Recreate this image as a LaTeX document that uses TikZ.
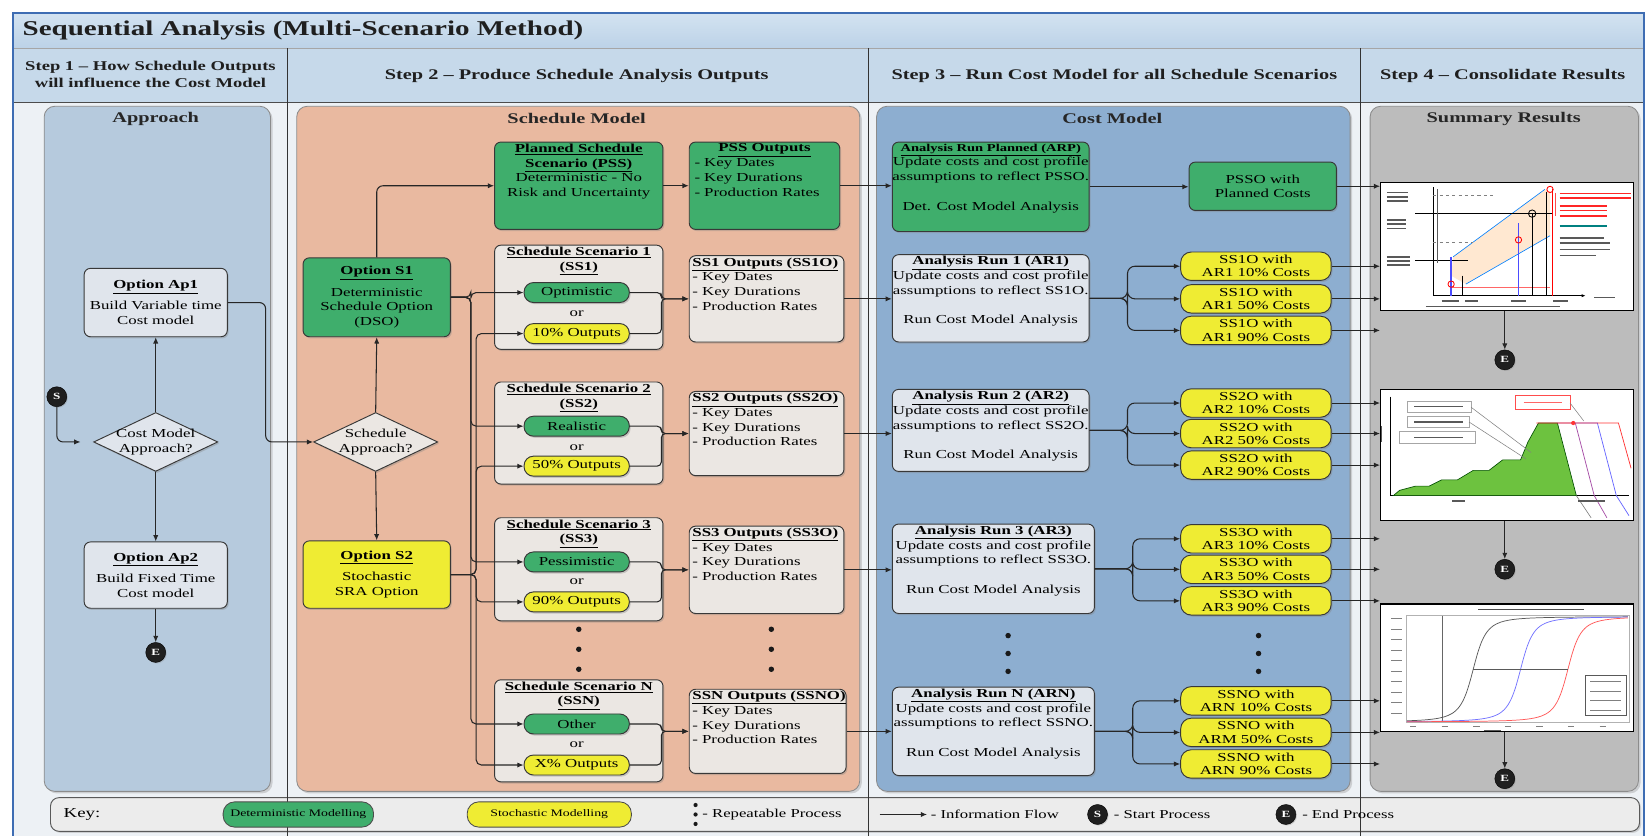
\documentclass[tikz,border=0pt]{standalone}
\usepackage{fontspec}
\setmainfont{Liberation Serif}[FakeStretch=1.38]
\usetikzlibrary{shapes.geometric,arrows.meta,shadows,calc}
\definecolor{frameblue}{HTML}{3E6DB3}
\definecolor{titlebgA}{HTML}{D3E3F1}
\definecolor{titlebgB}{HTML}{BCD2E7}
\definecolor{headbg}{HTML}{C6D9EA}
\definecolor{bodybg}{HTML}{EDF1F5}
\definecolor{apprlane}{HTML}{B6CADD}
\definecolor{schedlane}{HTML}{E9B9A0}
\definecolor{costlane}{HTML}{8DAED0}
\definecolor{sumlane}{HTML}{BCBCBC}
\definecolor{detgreen}{HTML}{3FAE6C}
\definecolor{stoyellow}{HTML}{EFEC33}
\definecolor{boxgrey}{HTML}{EBE7E3}
\definecolor{boxblue}{HTML}{E0E5EC}
\definecolor{keybg}{HTML}{ECECEC}
\definecolor{chartgreen}{HTML}{6DC23F}
\newcommand\fBody{\fontsize{11.6}{14}\selectfont}
\newcommand\fHead{\fontsize{14}{16}\selectfont\bfseries}
\newcommand\fHeadA{\fontsize{12.8}{16}\selectfont\bfseries}
\newcommand\fLane{\fontsize{14}{16}\selectfont\bfseries}
\newcommand\fTitle{\fontsize{20}{24}\selectfont\bfseries}
\newcommand\fKey{\fontsize{11.5}{13}\selectfont}
\newcommand\fKeyPill{\fontsize{9.5}{11}\selectfont}
\newcommand\fCirc{\fontsize{9}{10}\selectfont\bfseries}
\newcommand\fPillTxt{\fontsize{11.6}{12.5}\selectfont}
\newcommand\ubf[1]{\underline{\textbf{#1}}}
\begin{document}
\begin{tikzpicture}[x=1pt,y=-1pt,
  shad/.style={drop shadow={opacity=0.35,shadow xshift=1.3pt,shadow yshift=-1.6pt}},
  base/.style={draw=black!78, line width=0.9pt, rounded corners=6pt, shad},
  lanebox/.style={draw=black!45, line width=0.8pt, rounded corners=10pt, drop shadow={opacity=0.3,shadow xshift=2pt,shadow yshift=-2pt}},
  greenbox/.style={base, fill=detgreen},
  yellowbox/.style={base, fill=stoyellow},
  greybox/.style={base, fill=boxgrey},
  bluebox/.style={base, fill=boxblue},
  txt/.style={align=center, font=\fBody, inner sep=2pt},
  pill/.style={draw=black!78, line width=0.9pt, rounded corners=9pt, minimum width=100pt, minimum height=19pt, inner sep=0pt, font=\fBody, shad},
  rpill/.style={draw=black!78, line width=0.9pt, rounded corners=10pt, fill=stoyellow, minimum width=143pt, minimum height=27pt, inner sep=0pt, align=center, font=\fPillTxt, shad},
  kpill/.style={draw=black!70, line width=0.8pt, rounded corners=11pt, minimum height=24pt, inner sep=0pt, font=\fKeyPill},
  flow/.style={draw=black!85, line width=1pt, -{Latex[length=6pt,width=5pt]}},
  endpt/.style={circle, fill=black!88, draw=black, text=white, minimum size=19pt, inner sep=0pt, font=\fCirc, drop shadow={opacity=0.3,shadow xshift=1pt,shadow yshift=-1pt}},
  dia/.style={diamond, aspect=2, draw=black!78, line width=0.9pt, inner xsep=-10pt, inner ysep=-5pt, minimum width=118pt, minimum height=56pt, align=center, font=\fBody, shad},
  lanetitle/.style={font=\fLane, text=black!85},
  chart/.style={draw=black, line width=1pt, fill=white}
]
\useasboundingbox (0,0) rectangle (1568,794);
\fill[white] (0,0) rectangle (1568,794);
% frame backgrounds
\shade[top color=titlebgA, bottom color=titlebgB] (12,12) rectangle (1562,46);
\fill[headbg] (12,46) rectangle (1562,97);
\fill[bodybg] (12,97) rectangle (1562,794);
\draw[gray!70, line width=0.8pt] (12,46) -- (1562,46);
\draw[gray!60!black, line width=1pt] (12,97) -- (1562,97);

% title and headers
\node[anchor=west, font=\fTitle, text=black!88] (title) at (18,29) {Sequential Analysis (Multi-Scenario Method)};
\node[font=\fHeadA, align=center, text=black!88] (h1) at (143,71) {Step 1 -- How Schedule Outputs\\will influence the Cost Model};
\node[font=\fHead, text=black!88] (h2) at (548,72) {Step 2 -- Produce Schedule Analysis Outputs};
\node[font=\fHead, text=black!88] (h3) at (1059,72) {Step 3 -- Run Cost Model for all Schedule Scenarios};
\node[font=\fHead, text=black!88] (h4) at (1428,72) {Step 4 -- Consolidate Results};

% lanes
\node[lanebox, fill=apprlane, minimum width=215, minimum height=651] (applane) at (149.5,426.5) {};
\node[lanebox, fill=schedlane, minimum width=535, minimum height=651] (schlane) at (549.5,426.5) {};
\node[lanebox, fill=costlane, minimum width=450, minimum height=651] (costlane) at (1058,426.5) {};
\node[lanebox, fill=sumlane, minimum width=255, minimum height=651] (sumlane) at (1429.5,426.5) {};
\node[lanetitle] (appt) at (148,113) {Approach};
\node[lanetitle] (scht) at (548,113) {Schedule Model};
\node[lanetitle] (costt) at (1057,113) {Cost Model};
\node[lanetitle] (sumt) at (1429,113) {Summary Results};

% key bar
\node[draw=gray!70!black, line width=0.9pt, fill=keybg, rounded corners=8pt, minimum width=1510, minimum height=32, drop shadow={opacity=0.3,shadow xshift=1.5pt,shadow yshift=-1.5pt}] (keybar) at (803,774) {};

% column lines and frame
\foreach \xx in {273,825,1293} \draw[black!80, line width=0.9pt] (\xx,46) -- (\xx,794);
\draw[frameblue, line width=2pt] (12,794) -- (12,12) -- (1562,12) -- (1562,794);

% ---------- Approach ----------
\node[bluebox, txt, minimum width=136, minimum height=65] (ap1) at (148,287.5) {\ubf{Option Ap1}\\[6pt]Build Variable time\\Cost model};
\node[dia, fill=boxblue] (cmdia) at (148,420) {Cost Model\\Approach?};
\node[bluebox, txt, minimum width=136, minimum height=63] (ap2) at (148,546.5) {\ubf{Option Ap2}\\[6pt]Build Fixed Time\\Cost model};
\node[endpt] (sA) at (54,377) {S};
\node[endpt] (eA) at (148,620) {E};

% ---------- Schedule model ----------
\node[greenbox, txt, minimum width=140, minimum height=75] (s1) at (358,282.5) {\ubf{Option S1}\\[6pt]Deterministic\\Schedule Option\\(DSO)};
\node[dia, fill=boxgrey] (sdia) at (357,420) {Schedule\\Approach?};
\node[yellowbox, txt, minimum width=140, minimum height=64] (s2) at (358,546) {\ubf{Option S2}\\[6pt]Stochastic\\SRA Option};

\node[greenbox, minimum width=160, minimum height=83, label={[txt, anchor=north]north:{\ubf{Planned Schedule}\\\ubf{Scenario (PSS)}\\Deterministic - No\\Risk and Uncertainty}}] (pss) at (550,176.5) {};
\node[greenbox, minimum width=143, minimum height=83, label={[txt, anchor=north]north:{\ubf{PSS Outputs}}}, label={[txt, anchor=north, align=left, text width=133pt, yshift=-14pt]north:{- Key Dates\\- Key Durations\\- Production Rates}}] (psso) at (726.5,176.5) {};

\node[greybox, minimum width=160, minimum height=99, label={[txt, anchor=north]north:{\ubf{Schedule Scenario 1}\\\ubf{(SS1)}}}] (ss1) at (550,282.5) {};
\node[greybox, minimum width=160, minimum height=97, label={[txt, anchor=north]north:{\ubf{Schedule Scenario 2}\\\ubf{(SS2)}}}] (ss2) at (550,411.5) {};
\node[greybox, minimum width=160, minimum height=98, label={[txt, anchor=north]north:{\ubf{Schedule Scenario 3}\\\ubf{(SS3)}}}] (ss3) at (550,541) {};
\node[greybox, minimum width=160, minimum height=97, label={[txt, anchor=north]north:{\ubf{Schedule Scenario N}\\\ubf{(SSN)}}}] (ssn) at (550,694.5) {};

\node[pill, fill=detgreen] (opt) at (548,278) {Optimistic};
\node[txt] (or1) at (548,298) {or};
\node[pill, fill=stoyellow] (p10) at (548,317) {10\% Outputs};
\node[pill, fill=detgreen] (real) at (548,405) {Realistic};
\node[txt] (or2) at (548,425) {or};
\node[pill, fill=stoyellow] (p50) at (548,443) {50\% Outputs};
\node[pill, fill=detgreen] (pess) at (548,534) {Pessimistic};
\node[txt] (or3) at (548,553) {or};
\node[pill, fill=stoyellow] (p90) at (548,572) {90\% Outputs};
\node[pill, fill=detgreen] (oth) at (548,688) {Other};
\node[txt] (or4) at (548,708) {or};
\node[pill, fill=stoyellow] (px) at (548,727) {X\% Outputs};

\node[greybox, minimum width=147, minimum height=82, label={[txt, anchor=north, align=left, text width=141pt]north:{\ubf{SS1 Outputs (SS1O)}\\- Key Dates\\- Key Durations\\- Production Rates}}] (ss1o) at (728.5,284) {};
\node[greybox, minimum width=147, minimum height=80, label={[txt, anchor=north, align=left, text width=141pt]north:{\ubf{SS2 Outputs (SS2O)}\\- Key Dates\\- Key Durations\\- Production Rates}}] (ss2o) at (728.5,412) {};
\node[greybox, minimum width=147, minimum height=83, label={[txt, anchor=north, align=left, text width=141pt]north:{\ubf{SS3 Outputs (SS3O)}\\- Key Dates\\- Key Durations\\- Production Rates}}] (ss3o) at (728.5,541.5) {};
\node[greybox, minimum width=149, minimum height=80, label={[txt, anchor=north, align=left, text width=143pt]north:{\ubf{SSN Outputs (SSNO)}\\- Key Dates\\- Key Durations\\- Production Rates}}] (ssno) at (729.5,695) {};

\foreach \xx in {550,733} \foreach \yy in {598,617,636} \fill[black!90] (\xx,\yy) circle (2.6pt);

% ---------- Cost model ----------
\node[greenbox, minimum width=187, minimum height=85, label={[txt, anchor=north]north:{{\fontsize{10}{14}\selectfont\ubf{Analysis Run Planned (ARP)}}\\Update costs and cost profile\\assumptions to reflect PSSO.\\[14pt]Det. Cost Model Analysis}}] (arp) at (941.5,177.5) {};
\node[greenbox, txt, minimum width=140, minimum height=46] (ppc) at (1200,177) {PSSO with\\Planned Costs};

\node[bluebox, minimum width=187, minimum height=83, label={[txt, anchor=north]north:{\ubf{Analysis Run 1 (AR1)}\\Update costs and cost profile\\assumptions to reflect SS1O.\\[14pt]Run Cost Model Analysis}}] (ar1) at (941.5,283.5) {};
\node[bluebox, minimum width=187, minimum height=78, label={[txt, anchor=north]north:{\ubf{Analysis Run 2 (AR2)}\\Update costs and cost profile\\assumptions to reflect SS2O.\\[14pt]Run Cost Model Analysis}}] (ar2) at (941.5,409) {};
\node[bluebox, minimum width=192, minimum height=85, label={[txt, anchor=north]north:{\ubf{Analysis Run 3 (AR3)}\\Update costs and cost profile\\assumptions to reflect SS3O.\\[14pt]Run Cost Model Analysis}}] (ar3) at (944,540.5) {};
\node[bluebox, minimum width=192, minimum height=84, label={[txt, anchor=north]north:{\ubf{Analysis Run N (ARN)}\\Update costs and cost profile\\assumptions to reflect SSNO.\\[14pt]Run Cost Model Analysis}}] (arn) at (944,695) {};

\node[rpill] (r11) at (1193.5,253) {SS1O with\\AR1 10\% Costs};
\node[rpill] (r12) at (1193.5,284) {SS1O with\\AR1 50\% Costs};
\node[rpill] (r13) at (1193.5,314) {SS1O with\\AR1 90\% Costs};
\node[rpill] (r21) at (1193.5,383) {SS2O with\\AR2 10\% Costs};
\node[rpill] (r22) at (1193.5,412) {SS2O with\\AR2 50\% Costs};
\node[rpill] (r23) at (1193.5,442) {SS2O with\\AR2 90\% Costs};
\node[rpill] (r31) at (1193.5,512) {SS3O with\\AR3 10\% Costs};
\node[rpill] (r32) at (1193.5,541) {SS3O with\\AR3 50\% Costs};
\node[rpill] (r33) at (1193.5,571) {SS3O with\\AR3 90\% Costs};
\node[rpill] (rn1) at (1193.5,666) {SSNO with\\ARN 10\% Costs};
\node[rpill] (rn2) at (1193.5,696) {SSNO with\\ARM 50\% Costs};
\node[rpill] (rn3) at (1193.5,726) {SSNO with\\ARN 90\% Costs};

\foreach \xx in {958,1196} \foreach \yy in {604,621,638} \fill[black!90] (\xx,\yy) circle (2.6pt);

% ---------- Summary ----------
\node[chart, minimum width=240, minimum height=122] (ch1) at (1432,234) {};
\node[chart, minimum width=240, minimum height=125] (ch2) at (1432,432.5) {};
\node[chart, minimum width=240, minimum height=121] (ch3) at (1432,634.5) {};
\node[endpt] (e1) at (1430,342) {E};
\node[endpt] (e2) at (1430,541) {E};
\node[endpt] (e3) at (1430,740) {E};

% chart 1 drawing
\fill[orange!18] (1379,262) -- (1381,244) -- (1468,180) -- (1473,182) -- (1473,224) -- (1393,270) -- cycle;
\draw[blue!50!cyan, line width=0.6pt] (1381,244) -- (1468,180);
\draw[blue!50!cyan, line width=0.6pt] (1393,270) -- (1473,224);
\draw[line width=1pt] (1362,178) -- (1362,281);
\draw[line width=1pt, -{Latex[length=4pt,width=3pt]}] (1362,281) -- (1507,281);
\draw[line width=0.7pt] (1345,203) -- (1475,203);
\draw[line width=0.7pt] (1345,247) -- (1395,247);
\draw[red!60, line width=0.5pt] (1380,273) -- (1473,273);
\draw[gray, line width=0.5pt, dashed] (1362,186) -- (1420,186);
\draw[gray, line width=0.5pt, dashed] (1362,230) -- (1400,230);
\draw[blue!70, line width=1.8pt] (1379,244) -- (1379,281);
\draw[line width=1pt] (1390,262) -- (1390,281);
\draw[blue!70, line width=1.8pt] (1443,212) -- (1443,281);
\draw[line width=0.8pt] (1456,203) -- (1456,281);
\draw[line width=1pt] (1470,182) -- (1470,281);
\draw[red, line width=1.2pt] (1475,180) -- (1475,281);
\draw[red, line width=0.8pt] (1379,270) circle (3pt);
\draw[red, line width=0.8pt] (1443,228) circle (3pt);
\draw[line width=0.8pt] (1456,203) circle (3.5pt);
\draw[red, line width=0.8pt] (1473,180) circle (3pt);
\draw[gray!70!black, line width=0.6pt] (1366,180) -- (1366,250);
\foreach \yy in {183,187,191} \draw[gray!70!black, line width=1.5pt] (1318,\yy) -- (1338,\yy);
\foreach \yy in {209,213,217} \draw[gray!70!black, line width=1.5pt] (1318,\yy) -- (1336,\yy);
\foreach \yy in {244,248,252} \draw[gray!70!black, line width=1.5pt] (1318,\yy) -- (1340,\yy);
\foreach \yy/\ll in {184/68,188/68,196/45,200/45,205/45} \draw[red!85, line width=1.5pt] (1482,\yy) -- ++(\ll,0);
\draw[teal, line width=1.5pt] (1482,215) -- ++(45,0);
\foreach \yy/\ll in {226/42,231/48,237/48,243/35} \draw[gray!70!black, line width=1.5pt] (1482,\yy) -- ++(\ll,0);
\draw[red!70, line width=0.8pt] (1478,183) -- (1478,205);
\draw[gray!70!black, line width=1.3pt] (1370,286) -- (1386,286) (1392,286) -- (1405,286) (1436,286) -- (1450,286) (1476,286) -- (1490,286) (1515,283) -- (1535,283);
\draw[gray!70!black, line width=1.3pt] (1355,291) -- (1482,291);

% chart 2 drawing
\draw[line width=0.8pt] (1321,377) -- (1321,471) -- (1548,471);
\filldraw[fill=chartgreen, draw=green!30!black, line width=0.6pt] (1324,471) -- (1330,466) -- (1345,462) -- (1358,462) -- (1370,456) -- (1385,456) -- (1400,447) -- (1415,447) -- (1428,437) -- (1445,437) -- (1452,420) -- (1462,402) -- (1480,402) -- (1498,471) -- cycle;
\draw[violet!70, line width=0.7pt] (1480,402) -- (1497,402) -- (1515,471) -- (1527,492);
\draw[blue!60, line width=0.7pt] (1497,402) -- (1518,402) -- (1536,471) -- (1548,490);
\draw[red!80, line width=0.7pt] (1460,402) -- (1538,402) -- (1550,445);
\draw[gray, line width=0.6pt] (1498,471) -- (1512,492);
\fill[red!80] (1495,402) circle (2pt);
\draw[gray!70, fill=white, line width=0.5pt] (1337,381) rectangle (1398,392);
\draw[gray!70, fill=white, line width=0.5pt] (1337,396) rectangle (1396,406);
\draw[gray!70, fill=white, line width=0.5pt] (1330,410) rectangle (1402,421);
\draw[red!70, fill=white, line width=0.5pt] (1440,376) rectangle (1492,389);
\draw[gray, line width=0.5pt] (1398,387) -- (1455,430);
\draw[gray, line width=0.5pt] (1396,401) -- (1450,436);
\draw[gray, line width=0.5pt] (1492,383) -- (1505,400);
\foreach \yy in {386.5,401,415.5} \draw[gray!70!black, line width=1.2pt] (1344,\yy) -- (1390,\yy);
\draw[red!60, line width=1.2pt] (1448,382.5) -- (1484,382.5);
\draw[gray!70!black, line width=1.2pt] (1380,476) -- (1392,476);
\draw[gray!70!black, line width=1.2pt] (1312.5,405) -- (1312.5,420);
\draw[gray!70!black, line width=1.2pt] (1500,476) -- (1525,476);

% chart 3 drawing
\draw[gray!60, line width=0.4pt] (1336,585) rectangle (1548,686);
\draw[gray!60!black, line width=1.2pt] (1405,579) -- (1505,579);
\foreach \yy in {588,598,...,678} \draw[gray, line width=1pt] (1322,\yy) -- (1332,\yy);
\foreach \xx in {1340,1370,...,1520} \draw[gray, line width=1pt] (\xx,690) -- (\xx+6,690);
\draw[gray!70!black, line width=1pt] (1410,694) -- (1426,694);
\draw[gray!80!black, line width=0.5pt] (1371,585) -- (1371,686);
\draw[gray!70!black, line width=0.7pt, domain=1337:1547, samples=60, smooth] plot (\x, {636-50*((\x-1400)/13)/sqrt(1+((\x-1400)/13)^2)});
\draw[blue!55, line width=0.7pt, domain=1337:1547, samples=60, smooth] plot (\x, {636-50*((\x-1445)/13)/sqrt(1+((\x-1445)/13)^2)});
\draw[red!65, line width=0.7pt, domain=1337:1547, samples=60, smooth] plot (\x, {636-50*((\x-1490)/13)/sqrt(1+((\x-1490)/13)^2)});
\draw[gray!70!black, line width=0.5pt] (1400,636) -- (1490,636);
\draw[gray!70!black, line width=0.5pt, fill=white] (1506,642) rectangle (1545,680);
\foreach \yy in {648,657,666,675} \draw[gray, line width=0.8pt] (1511,\yy) -- (1540,\yy);

% ---------- Key ----------
\node[anchor=west, font=\fontsize{13}{15}\selectfont] (keylbl) at (57,774) {Key:};
\node[kpill, fill=detgreen, minimum width=143] (kdet) at (283.5,774) {Deterministic Modelling};
\node[kpill, fill=stoyellow, minimum width=156] (ksto) at (522,774) {Stochastic Modelling};
\foreach \yy in {765,774,783} \fill[black!90] (661,\yy) circle (2pt);
\node[anchor=west, font=\fKey] (krep) at (664,774) {- Repeatable Process};
\coordinate (ka) at (836,774);
\coordinate (kb) at (881,774);
\draw[flow] (ka) -- (kb);
\node[anchor=west, font=\fKey] (kinf) at (881,774) {- Information Flow};
\node[endpt] (kS) at (1043,774) {S};
\node[anchor=west, font=\fKey] (kst) at (1055,774) {- Start Process};
\node[endpt] (kE) at (1222,774) {E};
\node[anchor=west, font=\fKey] (ken) at (1234,774) {- End Process};

% ---------- Connectors ----------
\draw[flow, rounded corners=6pt, shorten >=12pt] (sA.south) |- (cmdia.west);
\draw[flow] (cmdia.north) -- (ap1.south);
\draw[flow] (cmdia.south) -- (ap2.north);
\draw[flow] (ap2.south) -- (eA.north);
\draw[flow, rounded corners=6pt] (ap1.east) -- ++(36,0) |- (sdia.west);
\draw[flow] (sdia.north) -- (s1.south);
\draw[flow] (sdia.south) -- (s2.north);
\draw[flow, rounded corners=6pt] (s1.north) |- (pss.west);
\draw[flow] (pss.east) -- (pss.east -| psso.west);
\draw[flow] (psso.east) -- (psso.east -| arp.west);
\foreach \p in {opt,real,pess,oth} \draw[flow, rounded corners=5pt] (s1.east) -- ++(19,0) |- (\p.west);
\foreach \p in {p10,p50,p90,px} \draw[flow, rounded corners=5pt] (s2.east) -- ++(24,0) |- (\p.west);
\foreach \a/\b/\o in {opt/p10/ss1o,real/p50/ss2o,pess/p90/ss3o,oth/px/ssno} {
  \draw[flow, rounded corners=4pt] (\a.east) -- ++(30,0) |- (\o.west);
  \draw[flow, rounded corners=4pt] (\b.east) -- ++(30,0) |- (\o.west);
}
\draw[flow] (ss1o.east) -- (ss1o.east -| ar1.west);
\draw[flow] (ss2o.east) -- (ss2o.east -| ar2.west);
\draw[flow] (ss3o.east) -- (ss3o.east -| ar3.west);
\draw[flow] (ssno.east) -- (ssno.east -| arn.west);
\draw[flow] (arp.east) -- (arp.east -| ppc.west);
\draw[flow] (ppc.east) -- (ppc.east -| ch1.west);
\foreach \ar/\i in {ar1/1,ar2/2,ar3/3,arn/n} {
  \foreach \j in {1,2,3} {
    \draw[flow, rounded corners=7pt] (\ar.east) -- ++(36,0) |- (r\i\j.west);
    \draw[flow] (r\i\j.east) -- (r\i\j.east -| ch1.west);
  }
}
\draw[flow] (ch1.south -| e1.north) -- (e1.north);
\draw[flow] (ch2.south -| e2.north) -- (e2.north);
\draw[flow] (ch3.south -| e3.north) -- (e3.north);
\end{tikzpicture}
\end{document}
